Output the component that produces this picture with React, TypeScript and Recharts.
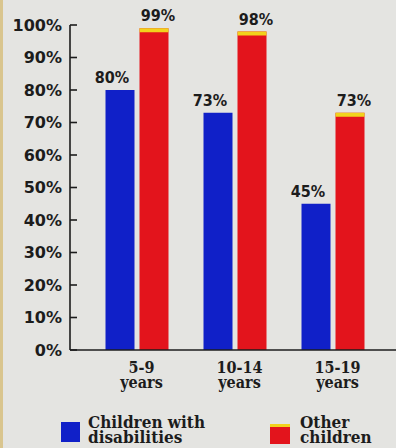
import React from 'react';
import { BarChart, Bar, XAxis, YAxis, LabelList } from 'recharts';

const ageGroups = ['5-9', '10-14', '15-19'];
const ageUnit = 'years';
const disabledValues = [80, 73, 45];
const otherValues = [99, 98, 73];
const yTicks = [0, 10, 20, 30, 40, 50, 60, 70, 80, 90, 100];
const disabledName = ['Children with', 'disabilities'];
const otherName = ['Other', 'children'];

const BLUE = '#1020c8';
const RED = '#e3141c';
const CAP = '#f2d21c';
const INK = '#1c1c1c';
const BG = '#e4e4e1';

const data = ageGroups.map((g, i) => ({
  group: g,
  disabled: disabledValues[i],
  other: otherValues[i],
}));

const YTick = (props: any) => {
  const { x, y, payload } = props;
  return (
    <g>
      <line x1={x + 8} x2={x + 15} y1={y} y2={y} stroke={INK} strokeWidth={1.6} />
      <text
        x={x}
        y={y}
        dy="0.36em"
        textAnchor="end"
        fill={INK}
        style={{ fontFamily: 'DejaVu Sans', fontWeight: 'bold', fontSize: 16 }}
      >
        {payload.value}%
      </text>
    </g>
  );
};

const XTick = (props: any) => {
  const { x, y, payload } = props;
  const st = { fontFamily: 'DejaVu Serif Condensed, DejaVu Serif', fontWeight: 'bold', fontSize: 16 } as any;
  return (
    <g>
      <text x={x + 5} y={y + 23} textAnchor="middle" fill={INK} style={st}>
        {payload.value}
      </text>
      <text x={x + 5} y={y + 38} textAnchor="middle" fill={INK} style={st}>
        {ageUnit}
      </text>
    </g>
  );
};

const makeLabel = (dx: number) => (props: any) => {
  const { x, y, width, value } = props;
  return (
    <text
      x={x + width / 2 + dx}
      y={y - 7}
      textAnchor="middle"
      fill={INK}
      style={{ fontFamily: 'DejaVu Sans Condensed, DejaVu Sans', fontWeight: 'bold', fontSize: 16 }}
    >
      {value}%
    </text>
  );
};

const RedShape = (props: any) => {
  const { x, y, width, height } = props;
  return (
    <g>
      <rect x={x} y={y} width={width} height={height} fill={RED} />
      <rect x={x} y={y} width={width} height={4} fill={CAP} />
    </g>
  );
};

const legendText = { fontFamily: 'DejaVu Serif Condensed, DejaVu Serif', fontWeight: 'bold', fontSize: 17 } as any;

export default function App() {
  return (
    <div style={{ position: 'absolute', left: 0, top: 0, width: 396, height: 448, background: BG, overflow: 'hidden' }}>
      <div style={{ position: 'absolute', left: 0, top: 0, width: 3, height: 448, background: '#d9c58e' }} />
      <BarChart
        width={396}
        height={448}
        data={data}
        margin={{ top: 25, right: 0, bottom: 38, left: 0 }}
        barSize={29}
        barGap={5}
      >
        <XAxis
          dataKey="group"
          height={60}
          padding={{ left: 17.5, right: 14.5 }}
          axisLine={{ stroke: INK, strokeWidth: 1.6 }}
          tickLine={false}
          tickSize={0}
          tickMargin={0}
          tick={<XTick />}
          interval={0}
        />
        <YAxis
          width={70}
          domain={[0, 100]}
          ticks={yTicks}
          interval={0}
          axisLine={{ stroke: INK, strokeWidth: 1.6 }}
          tickLine={false}
          tickSize={0}
          tickMargin={8}
          tick={<YTick />}
        />
        <Bar dataKey="disabled" fill={BLUE} isAnimationActive={false}>
          <LabelList dataKey="disabled" content={makeLabel(-8)} />
        </Bar>
        <Bar dataKey="other" fill={RED} shape={<RedShape />} isAnimationActive={false}>
          <LabelList dataKey="other" content={makeLabel(4)} />
        </Bar>
      </BarChart>
      <svg width={396} height={448} style={{ position: 'absolute', left: 0, top: 0, pointerEvents: 'none' }}>
        <rect x={61} y={422} width={19} height={20} fill={BLUE} />
        <text x={88} y={428} fill={INK} style={legendText}>{disabledName[0]}</text>
        <text x={88} y={443} fill={INK} style={legendText}>{disabledName[1]}</text>
        <rect x={270} y={424} width={20} height={20} fill={RED} />
        <rect x={270} y={424} width={20} height={3} fill={CAP} />
        <text x={300} y={428} fill={INK} style={legendText}>{otherName[0]}</text>
        <text x={300} y={443} fill={INK} style={legendText}>{otherName[1]}</text>
      </svg>
    </div>
  );
}
